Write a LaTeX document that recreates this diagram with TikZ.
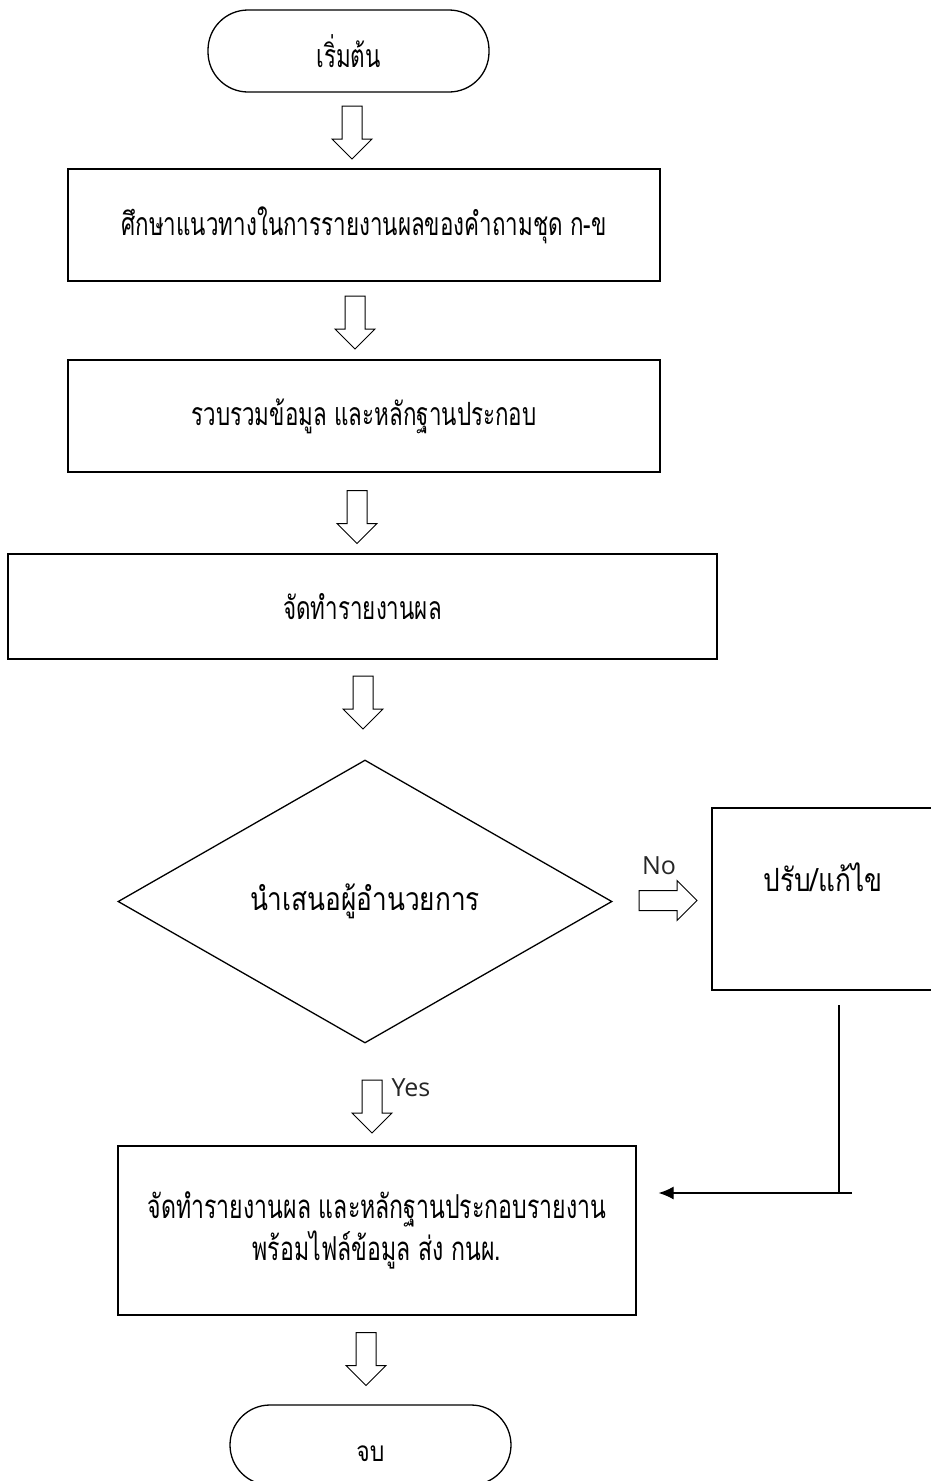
\documentclass[tikz,border=0pt]{standalone}
\usepackage{fontspec}
\usetikzlibrary{shapes.arrows, shapes.geometric, arrows.meta}
\newfontfamily\thaicond[Script=Thai,FakeStretch=0.7]{Loma}
\newfontfamily\thaifont[Script=Thai,FakeStretch=0.82]{Loma}
\newfontfamily\latinfont{Open Sans}
\begin{document}
\begin{tikzpicture}[x=1pt, y=-1pt,
		box/.style={draw, rectangle, line width=1.3pt, inner sep=0pt,
			font=\thaicond\fontsize{32pt}{42pt}\selectfont},
		term/.style={box, rounded corners=40pt, minimum width=281pt},
		dec/.style={box, diamond, aspect=1.75, minimum width=494pt, minimum height=283pt,
			font=\thaifont\fontsize{32pt}{38pt}\selectfont},
		blk/.style={draw, single arrow, line width=1pt, inner sep=9.5pt,
			single arrow head extend=10pt, minimum height=53pt},
		lat/.style={font=\latinfont\fontsize{25pt}{30pt}\selectfont, text=black!85},
		l_1/.style={line width=1.3pt}]
			% page
			\useasboundingbox (0,0) rectangle (931,1481);
			\fill[white] (0,0) rectangle (931,1481);
			\clip (0,0) rectangle (931,1481);
			
			% steps
			\node[term, minimum height=82pt] (start) at (348.5,51) {เริ่มต้น};
			\node[box, minimum width=592pt, minimum height=112pt] (b1) at (364,225) {ศึกษาแนวทางในการรายงานผลของคำถามชุด ก-ข};
			\node[box, minimum width=592pt, minimum height=112pt] (b2) at (364,416) {รวบรวมข้อมูล และหลักฐานประกอบ};
			\node[box, minimum width=709pt, minimum height=105pt] (b3) at (362.5,606.5) {จัดทำรายงานผล};
			\node[dec] (ask) at (365,901.5) {นำเสนอผู้อำนวยการ};
			\node[box, minimum width=240pt, minimum height=182pt] (fix) at (832,899) {};
			\node[font=\thaifont\fontsize{32pt}{38pt}\selectfont] (fixtext) at (823,877) {ปรับ/แก้ไข};
			\node[box, align=center, minimum width=518pt, minimum height=169pt,
				font=\thaicond\fontsize{33pt}{42pt}\selectfont] (b4) at (377,1230.5) {จัดทำรายงานผล และหลักฐานประกอบรายงาน\\พร้อมไฟล์ข้อมูล ส่ง กนผ.};
			\node[term, minimum height=80pt, text height=34pt,
				font=\thaifont\fontsize{28pt}{34pt}\selectfont] (stop) at (370.5,1445) {จบ};
			
			% block arrows
			\foreach \x/\y [count=\p] in {352/127.5, 355/317.5, 357/512, 363/697.5, 372/1101.5, 366/1354} {
				\node[blk, rotate=-90] (a\p) at (\x,\y) {};
			};
			\node[blk, minimum height=58pt] (ano) at (663,900.5) {};
			\node[lat] (no) at (659,866) {No};
			\node[lat] (yes) at (411,1088) {Yes};
			
			% back to b4
			\coordinate (fixdown) at (839,1005);
			\coordinate (turn) at (839,1193);
			\coordinate (turnx) at (852,1193);
			\draw[l_1] (fixdown) -- (turn);
			\draw[l_1, -{Latex[length=15pt,width=13pt]}] (turnx) -- ([xshift=22pt]b4.east |- turnx);
		\end{tikzpicture}
\end{document}
